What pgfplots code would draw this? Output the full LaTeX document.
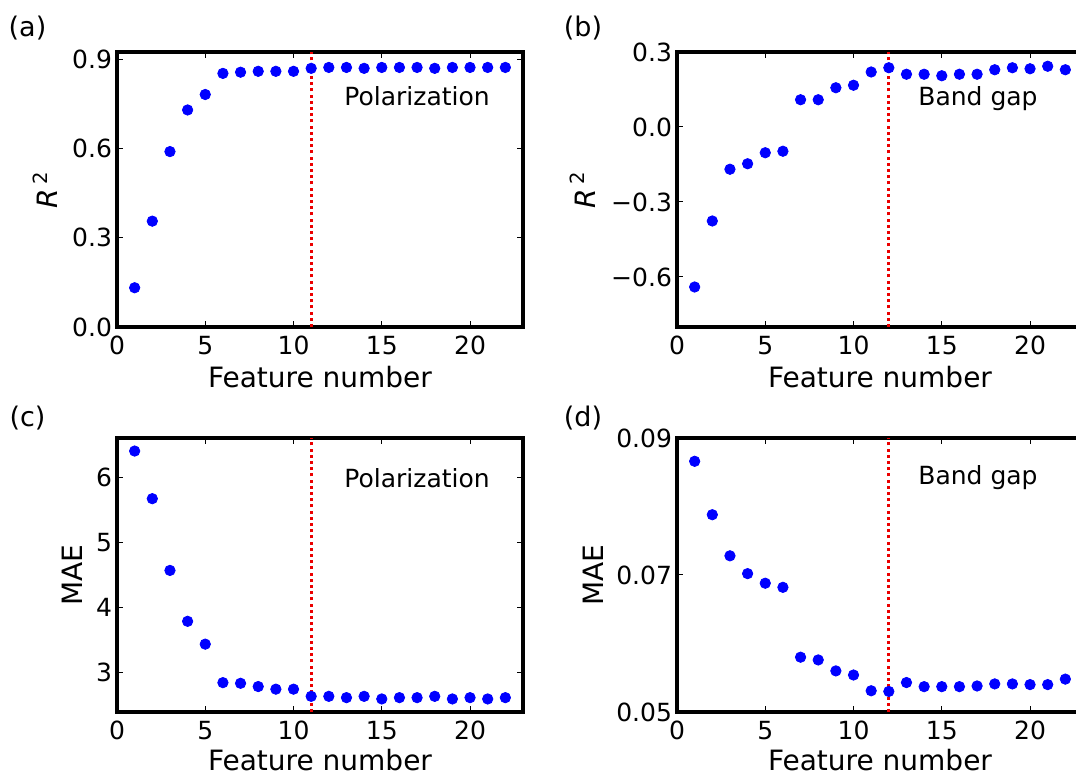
\documentclass[border=0pt]{standalone}
\usepackage{fontspec}
\setmainfont{DejaVu Sans}
\usepackage{pgfplots}
\pgfplotsset{compat=1.18}
\definecolor{mblue}{RGB}{0,0,255}
\definecolor{mred}{RGB}{235,0,0}
\pgfplotsset{
  panel/.style={
    scale only axis, width=203pt, height=137.5pt,
    xmin=0, xmax=23, xtick={0,5,10,15,20}, xticklabels={0,5,10,15,20},
    scaled y ticks=false, scaled x ticks=false,
    axis line style={line width=1.7pt},
    every tick/.style={black, line width=0.5pt},
    major tick length=3pt,
    tick align=inside, tick pos=both,
    tick label style={font=\fontsize{12.5}{14}\selectfont},
    xticklabel style={yshift=-1pt},
    yticklabel style={xshift=1pt},
    xlabel={Feature number},
    xlabel style={font=\fontsize{14}{16}\selectfont, at={(axis description cs:0.5,0)}, anchor=center, yshift=-25pt},
    ylabel style={font=\fontsize{14}{16}\selectfont, anchor=center, rotate=0},
    /pgf/number format/assume math mode=true,
  },
  pts/.style={only marks, mark=*, mark size=2.6pt, mark options={fill=mblue, draw=mblue}},
  vl/.style={mred, line width=1.6pt, dash pattern=on 1.5pt off 1.6pt, no marks},
}
\begin{document}
\begin{tikzpicture}[x=1pt,y=1pt]
\clip (0,0) rectangle (538,388);
% (a)
\begin{axis}[panel, at={(58.5pt,224.5pt)}, anchor=south west,
  ymin=0, ymax=0.925, ytick={0,0.3,0.6,0.9}, yticklabels={0.0,0.3,0.6,0.9},
  ylabel={\textit{R}\,\textsuperscript{2}}, ylabel style={at={(axis description cs:-0.177,0.5)}}]
\addplot[vl] coordinates {(11,0) (11,0.925)};
\addplot[pts] coordinates {
(1,0.132) (2,0.356) (3,0.590) (4,0.730) (5,0.782) (6,0.853) (7,0.857) (8,0.860)
(9,0.860) (10,0.860) (11,0.870) (12,0.873) (13,0.873) (14,0.870) (15,0.873)
(16,0.873) (17,0.873) (18,0.870) (19,0.873) (20,0.873) (21,0.873) (22,0.873)};
\node[font=\fontsize{12.5}{14}\selectfont] at (axis cs:17,0.775) {Polarization};
\end{axis}
% (b)
\begin{axis}[panel, at={(338.5pt,224.5pt)}, anchor=south west,
  ymin=-0.8, ymax=0.3, ytick={-0.6,-0.3,0,0.3}, yticklabels={−0.6,−0.3,0.0,0.3},
  ylabel={\textit{R}\,\textsuperscript{2}}, ylabel style={at={(axis description cs:-0.232,0.5)}}]
\addplot[vl] coordinates {(12,-0.8) (12,0.3)};
\addplot[pts] coordinates {
(1,-0.640) (2,-0.376) (3,-0.169) (4,-0.147) (5,-0.103) (6,-0.097) (7,0.109) (8,0.109)
(9,0.157) (10,0.167) (11,0.220) (12,0.237) (13,0.211) (14,0.211) (15,0.205)
(16,0.211) (17,0.211) (18,0.229) (19,0.237) (20,0.233) (21,0.243) (22,0.229)};
\node[font=\fontsize{12.5}{14}\selectfont] at (axis cs:17.05,0.112) {Band gap};
\end{axis}
% (c)
\begin{axis}[panel, at={(58.5pt,32pt)}, anchor=south west, height=137pt,
  ymin=2.4, ymax=6.6, ytick={3,4,5,6}, yticklabels={3,4,5,6},
  ylabel={MAE}, ylabel style={at={(axis description cs:-0.111,0.5)}},
  xlabel style={yshift=1pt}]
\addplot[vl] coordinates {(11,2.4) (11,6.6)};
\addplot[pts] coordinates {
(1,6.40) (2,5.67) (3,4.57) (4,3.79) (5,3.44) (6,2.85) (7,2.84) (8,2.79)
(9,2.75) (10,2.75) (11,2.64) (12,2.64) (13,2.62) (14,2.64) (15,2.60)
(16,2.62) (17,2.62) (18,2.64) (19,2.60) (20,2.62) (21,2.60) (22,2.62)};
\node[font=\fontsize{12.5}{14}\selectfont] at (axis cs:17,5.987) {Polarization};
\end{axis}
% (d)
\begin{axis}[panel, at={(338.5pt,32pt)}, anchor=south west, height=137pt,
  ymin=0.05, ymax=0.09, ytick={0.05,0.07,0.09}, yticklabels={0.05,0.07,0.09},
  ylabel={MAE}, ylabel style={at={(axis description cs:-0.207,0.5)}},
  xlabel style={yshift=1pt}]
\addplot[vl] coordinates {(12,0.05) (12,0.09)};
\addplot[pts] coordinates {
(1,0.0866) (2,0.0788) (3,0.0728) (4,0.0702) (5,0.0688) (6,0.0682) (7,0.0580) (8,0.0576)
(9,0.0560) (10,0.0554) (11,0.0531) (12,0.0530) (13,0.0543) (14,0.0537) (15,0.0537)
(16,0.0537) (17,0.0538) (18,0.0541) (19,0.0541) (20,0.0540) (21,0.0540) (22,0.0548)};
\node[font=\fontsize{12.5}{14}\selectfont] at (axis cs:17.05,0.0842) {Band gap};
\end{axis}
\node[font=\fontsize{13.5}{15}\selectfont] at (13.75,374) {(a)};
\node[font=\fontsize{13.5}{15}\selectfont] at (291.5,374) {(b)};
\node[font=\fontsize{13.5}{15}\selectfont] at (13.75,179) {(c)};
\node[font=\fontsize{13.5}{15}\selectfont] at (291.5,179) {(d)};
\end{tikzpicture}
\end{document}
